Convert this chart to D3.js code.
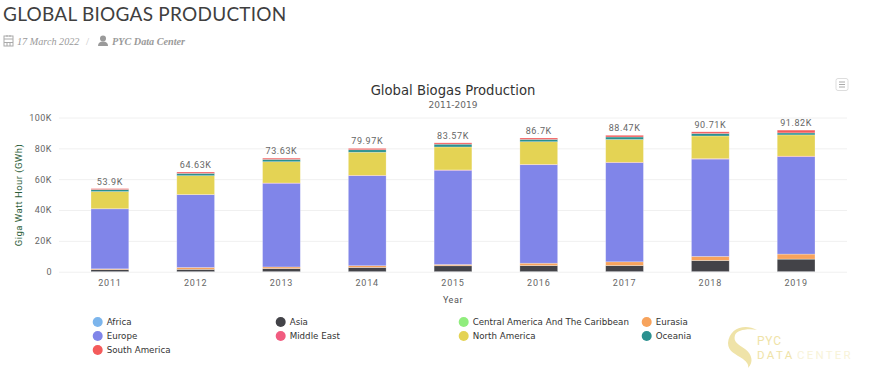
<!DOCTYPE html>
<html>
<head>
<meta charset="utf-8">
<script src="https://cdn.jsdelivr.net/npm/d3@7"></script>
<style>
  html, body { margin: 0; padding: 0; background: #fff; overflow: hidden; }
  svg { display: block; }
</style>
</head>
<body>
<svg id="chart" width="877" height="375"></svg>
<script>
const years = ["2011", "2012", "2013", "2014", "2015", "2016", "2017", "2018", "2019"];
const regions = ["Africa", "Asia", "Central America And The Caribbean", "Eurasia", "Europe", "Middle East", "North America", "Oceania", "South America"];
const regionColors = ["#7cb5ec", "#434348", "#90ed7d", "#f7a35c", "#8085e9", "#f15c80", "#e4d354", "#2b908f", "#f45b5b"];
const yTicks = [0, 20, 40, 60, 80, 100];

// values are in thousands of GWh
const africa = [0.05, 0.05, 0.06, 0.06, 0.06, 0.07, 0.08, 0.08, 0.08];
const asia = [1.3, 1.5, 2, 2.7, 3.8, 3.9, 3.9, 7.2, 8.1];
const centralAmerica = [0.02, 0.02, 0.02, 0.03, 0.03, 0.03, 0.04, 0.04, 0.04];
const eurasia = [0.5, 1.2, 1, 1.1, 0.8, 1.5, 2.4, 2.6, 3.2];
const europe = [38.9, 47.2, 54.3, 58.4, 61.1, 63.9, 64.3, 63.1, 63.2];
const middleEast = [0.1, 0.1, 0.15, 0.2, 0.2, 0.2, 0.25, 0.3, 0.3];
const northAmerica = [11.1, 12.2, 13.8, 15, 14.9, 14.7, 14.8, 14.7, 13.8];
const oceania = [1.3, 1.5, 1.5, 1.6, 1.8, 1.5, 1.6, 1.6, 1.3];
const southAmerica = [0.63, 0.86, 0.8, 0.88, 0.88, 0.9, 1.1, 1.09, 1.8];

const seriesValues = [africa, asia, centralAmerica, eurasia, europe, middleEast, northAmerica, oceania, southAmerica];

const rows = years.map((year, i) => {
  const row = { year: year };
  regions.forEach((r, j) => { row[r] = seriesValues[j][i]; });
  return row;
});

const color = d3.scaleOrdinal().domain(regions).range(regionColors);

const svg = d3.select("#chart");

// page header
svg.append("text")
  .attr("x", 3).attr("y", 21)
  .attr("font-family", "Lato, sans-serif")
  .attr("font-size", 19)
  .attr("letter-spacing", 0.25)
  .attr("fill", "#3f3f3f")
  .text("GLOBAL BIOGAS PRODUCTION");

const meta = svg.append("g").attr("fill", "#9a9a9a");
meta.append("rect").attr("x", 4).attr("y", 36).attr("width", 9).attr("height", 10).attr("fill", "none").attr("stroke", "#aaa");
meta.append("path").attr("d", "M4 39H13M7 42V46M10 42V46M4 42.5H13M7 35V37M10 35V37").attr("stroke", "#aaa").attr("fill", "none");
meta.append("text")
  .attr("x", 17).attr("y", 45)
  .attr("font-family", "'Liberation Serif', serif")
  .attr("font-style", "italic")
  .attr("font-size", 10.2)
  .text("17 March 2022");
meta.append("text")
  .attr("x", 86).attr("y", 45)
  .attr("font-family", "'Liberation Serif', serif")
  .attr("font-size", 11)
  .attr("fill", "#c8c8c8")
  .text("/");
meta.append("circle").attr("cx", 103).attr("cy", 38.5).attr("r", 3);
meta.append("path").attr("d", "M98 46Q98 41.5 103 41.5Q108 41.5 108 46Z");
meta.append("text")
  .attr("x", 112).attr("y", 45)
  .attr("font-family", "'Liberation Serif', serif")
  .attr("font-style", "italic")
  .attr("font-weight", "bold")
  .attr("font-size", 10.2)
  .text("PYC Data Center");

// chart
const x = d3.scaleBand().domain(years).range([67, 839]).paddingInner(0.56).paddingOuter(0.28);
const y = d3.scaleLinear().domain([0, 100]).range([271.7, 117.5]);
const gridLeft = 59, gridRight = 847;

svg.append("text")
  .attr("x", 453).attr("y", 95)
  .attr("text-anchor", "middle")
  .attr("font-family", "'DejaVu Sans', sans-serif")
  .attr("font-size", 13.2)
  .attr("fill", "#333")
  .text("Global Biogas Production");

svg.append("text")
  .attr("x", 453).attr("y", 108)
  .attr("text-anchor", "middle")
  .attr("font-family", "'DejaVu Sans', sans-serif")
  .attr("font-size", 9)
  .attr("fill", "#666")
  .text("2011-2019");

// grid and y axis
const yAxis = svg.append("g")
  .attr("transform", `translate(${gridLeft},0)`)
  .call(d3.axisLeft(y).tickValues(yTicks).tickSize(-(gridRight - gridLeft)).tickPadding(7)
    .tickFormat(d => d === 0 ? "0" : d + "K"));
yAxis.select(".domain").remove();
yAxis.selectAll("line").attr("stroke", "#f0f0f0");
yAxis.selectAll("text")
  .attr("font-family", "Roboto, sans-serif")
  .attr("font-size", 9)
  .attr("letter-spacing", 0.5)
  .attr("fill", "#666");

const xAxis = svg.append("g")
  .attr("transform", "translate(0,271.7)")
  .call(d3.axisBottom(x).tickSize(0).tickPadding(8));
xAxis.select(".domain").remove();
xAxis.selectAll("text")
  .attr("font-family", "Roboto, sans-serif")
  .attr("font-size", 9)
  .attr("letter-spacing", 0.8)
  .attr("fill", "#666");

svg.append("text")
  .attr("x", 453).attr("y", 303)
  .attr("text-anchor", "middle")
  .attr("font-family", "Roboto, sans-serif")
  .attr("font-size", 9)
  .attr("letter-spacing", 0.6)
  .attr("fill", "#555")
  .text("Year");

svg.append("text")
  .attr("transform", "translate(22,195) rotate(-90)")
  .attr("text-anchor", "middle")
  .attr("font-family", "Roboto, sans-serif")
  .attr("font-size", 9.5)
  .attr("letter-spacing", 0.45)
  .attr("fill", "#2c5e3a")
  .text("Giga Watt Hour (GWh)");

// stacked bars
const stacked = d3.stack().keys(regions)(rows);

svg.append("g")
  .selectAll("g")
  .data(stacked)
  .join("g")
  .attr("fill", d => color(d.key))
  .selectAll("rect")
  .data(d => d)
  .join("rect")
  .attr("x", d => x(d.data.year))
  .attr("y", d => y(d[1]))
  .attr("width", x.bandwidth())
  .attr("height", d => y(d[0]) - y(d[1]))
  .attr("stroke", "#fff")
  .attr("stroke-opacity", 0.35)
  .attr("stroke-width", 0.7);

// totals above the stacks
svg.append("g")
  .selectAll("text")
  .data(rows)
  .join("text")
  .attr("x", d => x(d.year) + x.bandwidth() / 2)
  .attr("y", d => y(d3.sum(regions, r => d[r])) - 4)
  .attr("text-anchor", "middle")
  .attr("font-family", "Roboto, sans-serif")
  .attr("font-size", 9)
  .attr("letter-spacing", 0.6)
  .attr("fill", "#666")
  .text(d => +d3.sum(regions, r => d[r]).toFixed(2) + "K");

// legend
const legendX = d3.scalePoint().domain([0, 1, 2, 3]).range([97.7, 646.7]);
const legendY = d3.scalePoint().domain([0, 1, 2]).range([322, 350]);

const legend = svg.append("g")
  .selectAll("g")
  .data(regions)
  .join("g")
  .attr("transform", (d, i) => `translate(${legendX(i % 4)},${legendY(Math.floor(i / 4))})`);

legend.append("circle").attr("r", 5).attr("fill", d => color(d));
legend.append("text")
  .attr("x", 9)
  .attr("y", 3.2)
  .attr("font-family", "'DejaVu Sans', sans-serif")
  .attr("font-size", 8.7)
  .attr("fill", "#333")
  .text(d => d);

// export menu button
const menu = svg.append("g");
menu.append("rect").attr("x", 836).attr("y", 78.5).attr("width", 12).attr("height", 12).attr("rx", 2)
  .attr("fill", "#fff").attr("stroke", "#ddd");
menu.append("path").attr("d", "M839 82H845M839 84.5H845M839 87H845").attr("stroke", "#aaa");

// watermark logo
const logo = svg.append("g").attr("fill", "#efe3a8");
logo.append("path")
  .attr("d", "M757 330C745 323 729 328 728 343C728 352 736 354 743 359C747 362 749 365 748 368C754 362 752 354 745 349C738 344 733 342 735 335C737 330 748 328 757 330Z");
logo.append("text")
  .attr("x", 757).attr("y", 345)
  .attr("font-family", "Roboto, sans-serif")
  .attr("font-size", 12)
  .attr("letter-spacing", 0.8)
  .text("PYC");
logo.append("text")
  .attr("x", 757).attr("y", 358.5)
  .attr("font-family", "Roboto, sans-serif")
  .attr("font-size", 11.5)
  .attr("letter-spacing", 2.4)
  .text("DATA");
logo.append("text")
  .attr("x", 797).attr("y", 358.5)
  .attr("font-family", "Roboto, sans-serif")
  .attr("font-size", 11.5)
  .attr("letter-spacing", 2.2)
  .attr("fill", "#f8f3d9")
  .text("CENTER");
</script>
</body>
</html>
